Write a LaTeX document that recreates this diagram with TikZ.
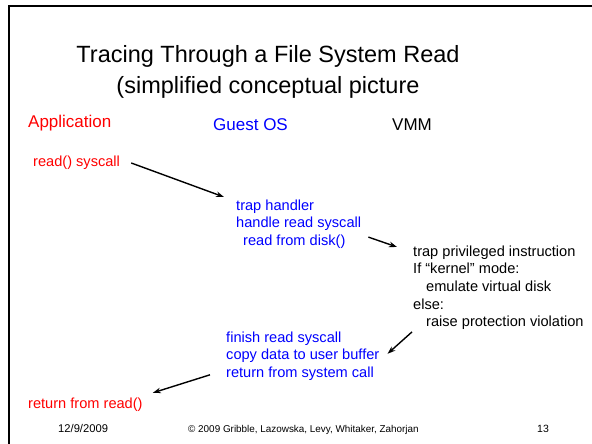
\documentclass[tikz,border=0pt]{standalone}
\usepackage{fontspec}
\setmainfont{Liberation Sans}
\usetikzlibrary{arrows.meta}

\begin{document}
\begin{tikzpicture}[x=1pt, y=-1pt,
    txt/.style = {inner sep=0pt, anchor=north west, align=left, font=\fontsize{14.6}{17.6}\selectfont},
    line/.style = {inner sep=0pt, anchor=base west, font=\fontsize{14.6}{17.6}\selectfont},
    head/.style = {inner sep=0pt, anchor=base west, font=\fontsize{17}{20}\selectfont},
    foot/.style = {inner sep=0pt, anchor=base west, font=\fontsize{10.5}{12}\selectfont},
    flow/.style = {black, line width=1.4pt, -{Stealth[length=8pt, width=5.5pt]}}]
    \useasboundingbox (0,0) rectangle (592,444);
    \draw[black, line width=2pt] (8.5,444) -- (8.5,6) -- (592,6);
    \node[inner sep=0pt, anchor=north, align=center, font=\fontsize{23.5}{31}\selectfont] (title) at (268,45.2)
        {Tracing Through a File System Read\\(simplified conceptual picture};
    \node[head, red] (app) at (28,128) {Application};
    \node[head, blue] (guest) at (213,130) {Guest OS};
    \node[head, black] (vmm) at (392,130) {VMM};
    \node[line, red] (sys) at (33,166) {read() syscall};
    \node[txt, blue] (trap) at (236,199.5) {trap handler\\handle read syscall\\\hspace{7pt}read from disk()};
    \node[txt, black] (vm) at (413,245.5) {trap privileged instruction\\If “kernel” mode:\\\hspace{13pt}emulate virtual disk\\else:\\\hspace{13pt}raise protection violation};
    \node[txt, blue] (fin) at (226,331.5) {finish read syscall\\copy data to user buffer\\return from system call};
    \node[line, red] (ret) at (28,408) {return from read()};
    \node[foot, font=\fontsize{11.2}{12}\selectfont] (date) at (58,432) {12/9/2009};
    \node[foot, font=\fontsize{9.9}{12}\selectfont] (copy) at (188,432) {© 2009 Gribble, Lazowska, Levy, Whitaker, Zahorjan};
    \node[foot] (page) at (537,432) {13};
    \draw[flow] ([xshift=11pt, yshift=-0.75pt]sys.east) -- ([xshift=-12pt, yshift=2.5pt]trap.north west);
    \draw[flow] ([xshift=7pt, yshift=-13pt]trap.east) -- ([xshift=-16pt, yshift=-1.5pt]vm.north west);
    \draw[flow] ([xshift=-1pt, yshift=-2pt]vm.south west) -- ([xshift=8pt, yshift=2.3pt]fin.east);
    \draw[flow] ([xshift=-16pt, yshift=-18.7pt]fin.west) -- ([xshift=10pt, yshift=4.4pt]ret.north east);
\end{tikzpicture}
\end{document}
